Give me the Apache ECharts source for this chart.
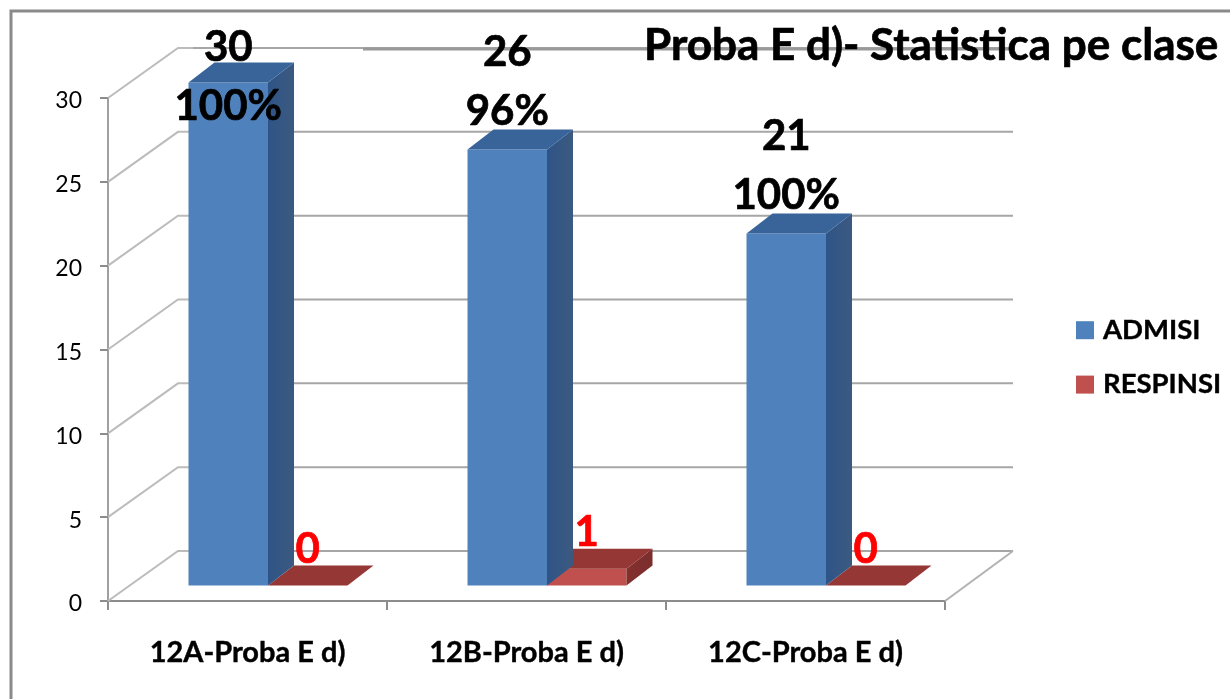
<!DOCTYPE html>
<html>
<head>
<meta charset="utf-8">
<style>html,body{margin:0;padding:0;background:#fff;overflow:hidden}#c{width:1230px;height:699px}</style>
<script src="https://cdn.jsdelivr.net/npm/echarts@6/dist/echarts.min.js"></script>
</head>
<body>
<div id="c"></div>
<script>
const categories = ['12A-Proba E d)', '12B-Proba E d)', '12C-Proba E d)'];
const admisi = [30, 26, 21];
const respinsi = [0, 1, 0];
const admisiPct = ['100%', '96%', '100%'];
const valueTicks = [0, 5, 10, 15, 20, 25, 30];
const seriesNames = ['ADMISI', 'RESPINSI'];
const titleText = 'Proba E d)- Statistica pe clase';

const FONT = 'Lato, "Open Sans", sans-serif';
const WALL_DX = 68, WALL_DY = -50;
const BAR_DX = 21, BAR_DY = -15.5, DEPTH_DX = 26, DEPTH_DY = -20;
const BAR_W_FRAC = 79.5 / 279, GAP_FRAC = 80.5 / 279;

function poly(points, fill, z2) {
  return { type: 'polygon', shape: { points }, style: { fill }, z2: z2 || 1 };
}
function lineSeg(points, stroke, width) {
  return { type: 'polyline', shape: { points }, style: { fill: null, stroke, lineWidth: width } };
}
function txt(text, x, y, fill) {
  return { type: 'text', z2: 10, style: { text, x, y, fill, stroke: fill, lineWidth: 0.7, font: 'bold 42px ' + FONT, textAlign: 'center', textVerticalAlign: 'middle' } };
}
function box(api, slot, colors) {
  const i = api.value(0), v = api.value(1);
  const band = api.size([1, 0])[0];
  const bw = band * BAR_W_FRAC;
  const start = api.coord([i, 0])[0] - band / 2 + band * GAP_FRAC + slot * bw;
  const base = api.coord([i, 0])[1] + BAR_DY;
  const top = api.coord([i, v])[1] + BAR_DY;
  const x0 = start, x1 = start + bw;
  const els = [];
  if (v > 0) {
    els.push(poly([[x0, base], [x1, base], [x1, top], [x0, top]], colors.front));
    els.push(poly([[x1, base], [x1 + DEPTH_DX, base + DEPTH_DY], [x1 + DEPTH_DX, top + DEPTH_DY], [x1, top]], {
      type: 'linear', x: 0, y: 0, x2: 1, y2: 0,
      colorStops: [{ offset: 0, color: colors.side0 }, { offset: 1, color: colors.side1 }]
    }));
  }
  els.push(poly([[x0, top], [x1, top], [x1 + DEPTH_DX, top + DEPTH_DY], [x0 + DEPTH_DX, top + DEPTH_DY]], colors.top));
  return { els, cx: (x0 + x1) / 2, top };
}

const chart = echarts.init(document.getElementById('c'), null, { renderer: 'canvas' });
chart.setOption({
  animation: false,
  backgroundColor: '#fff',
  title: {
    text: titleText, left: 639, top: 19,
    textStyle: { fontFamily: FONT, fontWeight: 'bold', fontSize: 44, color: '#000', textBorderColor: '#000', textBorderWidth: 0.7 }
  },
  legend: {
    data: seriesNames.map(n => ({ name: n, icon: 'rect' })),
    orient: 'vertical', left: 1071, top: 311, itemWidth: 18, itemHeight: 18, itemGap: 26,
    textStyle: { fontFamily: FONT, fontWeight: 'bold', fontSize: 27.5, color: '#000', textBorderColor: '#000', textBorderWidth: 0.4, padding: [0, 0, 0, 4] }
  },
  grid: { left: 108, width: 837, top: 98, height: 503, containLabel: false },
  xAxis: {
    type: 'category', data: categories,
    axisLine: { show: true, lineStyle: { color: '#8c8c8c', width: 2 } },
    axisTick: { show: true, length: 9, lineStyle: { color: '#8c8c8c', width: 2 } },
    axisLabel: { fontFamily: FONT, fontWeight: 'bold', fontSize: 29, color: '#000', margin: 37, interval: 0, textBorderColor: '#000', textBorderWidth: 0.4 }
  },
  yAxis: {
    type: 'value', min: 0, max: 30, interval: 5,
    splitLine: { show: false },
    axisLine: { show: true, lineStyle: { color: '#a0a0a0', width: 2 } },
    axisTick: { show: true, length: 8, lineStyle: { color: '#8c8c8c', width: 2 } },
    axisLabel: {
      margin: 26, formatter: '{t|{value}}',
      rich: { t: { fontFamily: FONT, fontSize: 23, color: '#000', padding: [6, 0, 0, 0] } }
    }
  },
  series: [
    {
      type: 'custom', name: 'walls', silent: true, clip: false, z: 1,
      data: valueTicks.map(v => [0, v]),
      encode: { x: 0, y: 1 },
      renderItem(params, api) {
        const v = api.value(1);
        const band = api.size([1, 0])[0];
        const left = api.coord([0, v])[0] - band / 2;
        const right = api.coord([categories.length - 1, v])[0] + band / 2;
        const y = api.coord([0, v])[1];
        const bx = left + WALL_DX + 2, by = y + WALL_DY;
        const children = [
          lineSeg([[left, y], [bx, by], [bx + 15, by]], '#bcbcbc', 2),
          lineSeg([[bx + 15, by], [right + WALL_DX, by]], '#a6a6a6', 2)
        ];
        if (v === 0) children.push(lineSeg([[right, y], [right + WALL_DX, by]], '#b2b2b2', 2));
        if (v === 30) children.push(lineSeg([[left + 255, by + 1], [right + WALL_DX, by + 1]], '#999999', 3));
        return { type: 'group', children };
      }
    },
    {
      type: 'custom', name: seriesNames[1], clip: false, z: 2,
      itemStyle: { color: '#c0504d' },
      data: respinsi.map((v, i) => [i, v]),
      encode: { x: 0, y: 1 },
      renderItem(params, api) {
        const b = box(api, 1, { front: '#c0504d', top: '#953735', side0: '#83302e', side1: '#7a2e2c' });
        b.els.push(txt(String(api.value(1)), b.cx, b.top - 36, '#ff0000'));
        return { type: 'group', children: b.els };
      }
    },
    {
      type: 'custom', name: seriesNames[0], clip: false, z: 3,
      itemStyle: { color: '#4f81bd' },
      data: admisi.map((v, i) => [i, v]),
      encode: { x: 0, y: 1 },
      renderItem(params, api) {
        const i = api.value(0);
        const b = box(api, 0, { front: '#4f81bd', top: '#39649a', side0: '#2e5487', side1: '#3c5a80' });
        const y1 = Math.max(b.top - 97, 47);
        b.els.push(txt(String(api.value(1)), b.cx, y1, '#000'));
        b.els.push(txt(admisiPct[i], b.cx, y1 + 59, '#000'));
        return { type: 'group', children: b.els };
      }
    }
  ],
  graphic: [{
    type: 'rect', silent: true, z: 100,
    shape: { x: 11, y: 11, width: 1400, height: 900 },
    style: { fill: null, stroke: '#8a8a8a', lineWidth: 3 }
  }]
});
</script>
</body>
</html>
